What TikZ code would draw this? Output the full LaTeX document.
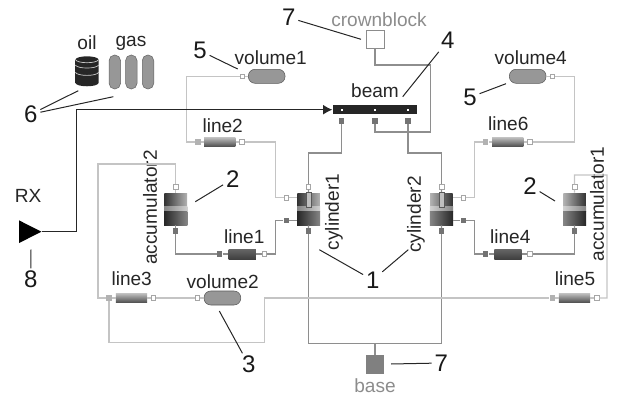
\documentclass[tikz,border=0pt]{standalone}
\usepackage{fontspec}
\setmainfont{Liberation Sans}
\usetikzlibrary{positioning, arrows.meta, shapes.geometric}
\definecolor{lightwire}{HTML}{C4C4C4}
\definecolor{midwire}{HTML}{8E8E8E}
\definecolor{capsule}{HTML}{979797}
\tikzset{
  lbl/.style={font=\fontsize{14.3}{16}\selectfont, text=black!85, inner sep=0pt},
  greylbl/.style={lbl, text=black!45},
  num/.style={font=\fontsize{18}{20}\selectfont, text=black!90, inner sep=2pt},
  leader/.style={draw=black!85, line width=0.75pt},
  gaswire/.style={draw=lightwire, line width=0.95pt},
  oilwire/.style={draw=midwire, line width=0.95pt},
  portwhite/.style={rectangle, draw=black!35, fill=white, line width=0.5pt, minimum size=3.6pt, inner sep=0pt},
  portlight/.style={rectangle, fill=black!30, minimum size=4pt, inner sep=0pt},
  portdark/.style={rectangle, fill=black!55, minimum size=4pt, inner sep=0pt},
  volbox/.style={rectangle, rounded corners=5pt, draw=black!65, line width=0.4pt, fill=capsule, minimum width=27.5pt, minimum height=10.5pt, inner sep=0pt},
  gasbox/.style={rectangle, rounded corners=4.2pt, draw=black!60, line width=0.4pt, fill=capsule, minimum width=8.6pt, minimum height=25.5pt, inner sep=0pt},
  pipelong/.style={rectangle, top color=black!25, bottom color=black!70, minimum width=23.5pt, minimum height=7pt, inner sep=0pt},
  pipeshort/.style={rectangle, top color=black!60, bottom color=black!75, minimum width=20.5pt, minimum height=7.5pt, inner sep=0pt},
  tankbox/.style={rectangle, minimum width=17pt, minimum height=24pt, inner sep=0pt},
  rodbox/.style={rectangle, draw=black!65, fill=black!25, line width=0.4pt, minimum width=3.6pt, minimum height=11pt, inner sep=0pt},
}
\newcommand{\tank}[4]{
  \node[tankbox, left color=black!#3, middle color=black!35, right color=black!#4] (#1) at (#2,209) {};
  \shade[left color=black!#3!white!60, middle color=black!15, right color=black!#4!white!60] ([yshift=1.9pt]#1.west) rectangle ([yshift=-1.9pt]#1.east);
  \shade[left color=black!#3!white!75!black, middle color=black!55, right color=black!#4!white!75!black] ([yshift=-1.9pt]#1.west) rectangle (#1.south east);
}
\begin{document}
\begin{tikzpicture}[x=0.75pt, y=-0.75pt, >=Latex]
  \useasboundingbox (0,0) rectangle (617,399);

  \node[rectangle, draw=black!45, line width=0.7pt, minimum size=13.5pt, inner sep=0pt] (crownblock) at (375,39) {};
  \node[greylbl] (crownlbl) at (379,20) {crownblock};
  \node[rectangle, fill=black!85, minimum width=63.5pt, minimum height=7pt, inner sep=0pt] (beam) at (375,109.7) {};
  \node[lbl] (beamlbl) at (375,91) {beam};
  \node[rectangle, fill=white, minimum size=1.3pt, inner sep=0pt] (pin1) at (341.7,109.7) {};
  \node[rectangle, fill=white, minimum size=1.3pt, inner sep=0pt] (pin2) at (375,109.7) {};
  \node[rectangle, fill=white, minimum size=1.3pt, inner sep=0pt] (pin3) at (408,109.7) {};
  \node[portdark] (beama) at (341.7,121) {};
  \node[portdark] (beamb) at (375,121) {};
  \node[portdark] (beamc) at (408,121) {};

  \tank{cylinder1}{308.6}{80}{30}
  \tank{cylinder2}{441.4}{30}{80}
  \tank{accumulator2}{175.7}{80}{30}
  \tank{accumulator1}{574.6}{30}{80}
  \node[rodbox] (rod1) at (308.6,199.5) {};
  \node[rodbox] (rod2) at (441.4,199.5) {};
  \node[lbl, rotate=90] (cyl1lbl) at (334,212) {cylinder1};
  \node[lbl, rotate=90] (cyl2lbl) at (416,214.5) {cylinder2};
  \node[lbl, rotate=90] (acc2lbl) at (150,207.5) {accumulator2};
  \node[lbl, rotate=90] (acc1lbl) at (597,204) {accumulator1};

  \node[portwhite] (cyl1top) at (308.4,187) {};
  \node[portdark, minimum size=4.2pt] (cyl1bot) at (308.4,231) {};
  \node[portwhite] (cyl1gas) at (286.3,197.7) {};
  \node[portdark] (cyl1oil) at (286.3,220.3) {};
  \node[portwhite] (cyl2top) at (441.6,187) {};
  \node[portdark, minimum size=4.2pt] (cyl2bot) at (441.6,231) {};
  \node[portwhite] (cyl2gas) at (463.3,197.7) {};
  \node[portdark] (cyl2oil) at (463.3,220.3) {};
  \node[portwhite] (acc2top) at (175.7,187) {};
  \node[portdark] (acc2bot) at (175.7,231) {};
  \node[portwhite] (acc1top) at (574.5,187) {};
  \node[portdark] (acc1bot) at (574.5,231) {};

  \node[volbox] (volume1) at (266.7,76.3) {};
  \node[lbl] (vol1lbl) at (270.7,57.5) {volume1};
  \node[portwhite] (vol1p) at (242.3,76.3) {};
  \node[volbox] (volume4) at (527.7,76.3) {};
  \node[lbl] (vol4lbl) at (530.7,57.5) {volume4};
  \node[portwhite] (vol4p) at (552.3,76.3) {};
  \node[volbox] (volume2) at (222.4,298) {};
  \node[lbl] (vol2lbl) at (222.7,282) {volume2};
  \node[portwhite] (vol2p) at (197.3,298) {};

  \node[pipelong] (line2) at (219.8,142) {};
  \node[lbl] (l2lbl) at (222.7,125.5) {line2};
  \node[portlight] (l2a) at (198,142) {};
  \node[portwhite] (l2b) at (242,142) {};
  \node[pipelong] (line6) at (507.8,142) {};
  \node[lbl] (l6lbl) at (508.3,123.5) {line6};
  \node[portlight] (l6a) at (485.7,142) {};
  \node[portwhite] (l6b) at (530,142) {};
  \node[pipelong] (line3) at (131.5,298) {};
  \node[lbl] (l3lbl) at (131.7,278.5) {line3};
  \node[portlight] (l3a) at (109,298) {};
  \node[portwhite] (l3b) at (153.3,298) {};
  \node[pipelong] (line5) at (574.5,298) {};
  \node[lbl] (l5lbl) at (575,278.5) {line5};
  \node[portlight] (l5a) at (552.3,298) {};
  \node[portwhite] (l5b) at (596.7,298) {};
  \node[pipeshort] (line1) at (242.2,254) {};
  \node[lbl] (l1lbl) at (244.3,236.5) {line1};
  \node[portdark] (l1a) at (219.7,254) {};
  \node[portwhite] (l1b) at (264.3,254) {};
  \node[pipeshort] (line4) at (508,254) {};
  \node[lbl] (l4lbl) at (510.3,236.5) {line4};
  \node[portdark] (l4a) at (485.7,254) {};
  \node[portwhite] (l4b) at (530,254) {};

  \node[rectangle, fill=black!50, minimum size=14pt, inner sep=0pt] (base) at (375,364.2) {};
  \node[greylbl] (baselbl) at (375,386) {base};

  \node[isosceles triangle, isosceles triangle apex angle=54, isosceles triangle stretches, fill=black, minimum width=17pt, minimum height=16.8pt, inner sep=0pt] (rx) at (26,231.7) {};
  \node[lbl] (rxlbl) at (28,196) {RX};

  \draw[oilwire] (crownblock) -- ++(0,26) -| ++(55.5,67) -| (beamb);
  \draw[oilwire] (beama) -- ++(0,32) -| (cyl1top);
  \draw[oilwire] (beamc) -- ++(0,32) -| (cyl2top);
  \draw[oilwire] (cyl1bot) |- ++(66.6,112.7) -| (cyl2bot);
  \draw[oilwire] (base) -- ++(0,-20.5);
  \draw[oilwire] (cyl1top) -- (rod1);
  \draw[oilwire] (cyl2top) -- (rod2);
  \draw[oilwire] (cyl1bot) -- (cylinder1);
  \draw[oilwire] (cyl2bot) -- (cylinder2);
  \draw[oilwire] (acc2bot) -- (accumulator2);
  \draw[oilwire] (acc1bot) -- (accumulator1);
  \draw[oilwire] (acc2bot) |- (l1a);
  \draw[oilwire] (l1a) -- (line1);
  \draw[oilwire] (line1) -- (l1b);
  \draw[oilwire] (l1b) -- ++(11.4,0) |- (cyl1oil);
  \draw[oilwire] (cyl1oil) -- (cylinder1.west |- cyl1oil);
  \draw[oilwire] (acc1bot) |- (l4b);
  \draw[oilwire] (l4b) -- (line4);
  \draw[oilwire] (line4) -- (l4a);
  \draw[oilwire] (l4a) -- ++(-11,0) |- (cyl2oil);
  \draw[oilwire] (cyl2oil) -- (cylinder2.east |- cyl2oil);

  \draw[gaswire] (vol1p) -- (volume1);
  \draw[gaswire] (vol1p) -- ++(-55.6,0) |- (l2a);
  \draw[gaswire] (l2a) -- (line2);
  \draw[gaswire] (line2) -- (l2b);
  \draw[gaswire] (l2b) -- ++(33.7,0) |- (cyl1gas);
  \draw[gaswire] (cyl1gas) -- (cylinder1.west |- cyl1gas);
  \draw[gaswire] (vol4p) -- (volume4);
  \draw[gaswire] (vol4p) -- ++(22.4,0) |- (l6b);
  \draw[gaswire] (l6b) -- (line6);
  \draw[gaswire] (line6) -- (l6a);
  \draw[gaswire] (l6a) -- ++(-11,0) |- (cyl2gas);
  \draw[gaswire] (cyl2gas) -- (cylinder2.east |- cyl2gas);
  \draw[gaswire] (acc2top) -- (accumulator2);
  \draw[gaswire] (acc2top) |- ++(-77.7,-23) |- (l3a);
  \draw[gaswire] (l3a) -- (line3);
  \draw[gaswire] (line3) -- (l3b);
  \draw[gaswire] (l3b) -- (vol2p);
  \draw[gaswire] (vol2p) -- (volume2);
  \draw[gaswire] (l3a) |- ++(155.5,44.7) |- (l5a);
  \draw[gaswire] (l5a) -- (line5);
  \draw[gaswire] (line5) -- (l5b);
  \draw[gaswire] (l5b) -- ++(10.3,0) |- ++(-32.5,-123) -- (acc1top);
  \draw[gaswire] (acc1top) -- (accumulator1);

  \draw[black!85, line width=1pt, arrows={-Latex[length=7pt,width=7.5pt]}] (rx.apex) -- ++(34.3,0) |- (beam);

  \node[rectangle, minimum width=17pt, minimum height=17pt, inner sep=0pt] (oil) at (87,71.3) {};
  \shade[left color=black!85, middle color=black!50, right color=black!85] (oil.north west) .. controls +(1,-4.5) and +(-1,-4.5) .. (oil.north east) -- (oil.south east) .. controls +(-1,4.5) and +(1,4.5) .. (oil.south west) -- cycle;
  \draw[black!20, line width=0.5pt] (oil.north west) .. controls +(2,4) and +(-2,4) .. (oil.north east);
  \draw[black!20, line width=0.5pt] ([yshift=-4pt]oil.north west) .. controls +(2,4) and +(-2,4) .. ([yshift=-4pt]oil.north east);
  \draw[black!20, line width=0.5pt] ([yshift=-9.5pt]oil.north west) .. controls +(2,4) and +(-2,4) .. ([yshift=-9.5pt]oil.north east);
  \node[lbl] (oillbl) at (87,43) {oil};
  \node[gasbox] (gas1) at (114.8,72) {};
  \node[gasbox] (gas2) at (131.3,72) {};
  \node[gasbox] (gas3) at (148,72) {};
  \node[lbl] (gaslbl) at (131,43) {gas};

  \node[num] (n7a) at (288.7,17.5) {7};
  \node[num] (n4) at (447.7,40.7) {4};
  \node[num] (n5a) at (200,50.7) {5};
  \node[num] (n5b) at (470,97.3) {5};
  \node[num] (n6) at (30.7,114.3) {6};
  \node[num] (n2a) at (232.7,179) {2};
  \node[num] (n2b) at (530,185.7) {2};
  \node[num] (n1) at (372.7,280) {1};
  \node[num] (n3) at (248.7,364.7) {3};
  \node[num] (n7b) at (441.3,363) {7};
  \node[num] (n8) at (30.7,279.7) {8};

  \coordinate (e7a) at (361,39.3);
  \coordinate (e4) at (402.7,96.7);
  \coordinate (e5a) at (237.7,69);
  \coordinate (e5b) at (506,83.7);
  \coordinate (e6a) at (78.3,90.7);
  \coordinate (e6b) at (113.3,96.7);
  \coordinate (e2a) at (195.3,201.7);
  \coordinate (e2b) at (555,201);
  \coordinate (e1a) at (319.3,249.7);
  \coordinate (e1b) at (408.3,249.7);
  \coordinate (e3) at (219.3,311);
  \coordinate (e7b) at (391,364);
  \coordinate (e8) at (31,249.7);

  \draw[leader] (n7a) -- (e7a);
  \draw[leader] (n4) -- (e4);
  \draw[leader] (n5a) -- (e5a);
  \draw[leader] (n5b) -- (e5b);
  \draw[leader] (n6) -- (e6a);
  \draw[leader] (n6) -- (e6b);
  \draw[leader] (n2a) -- (e2a);
  \draw[leader] (n2b) -- (e2b);
  \draw[leader] (n1) -- (e1a);
  \draw[leader] (n1) -- (e1b);
  \draw[leader] (n3) -- (e3);
  \draw[leader] (n7b) -- (e7b);
  \draw[leader] (n8) -- (e8);
\end{tikzpicture}
\end{document}
